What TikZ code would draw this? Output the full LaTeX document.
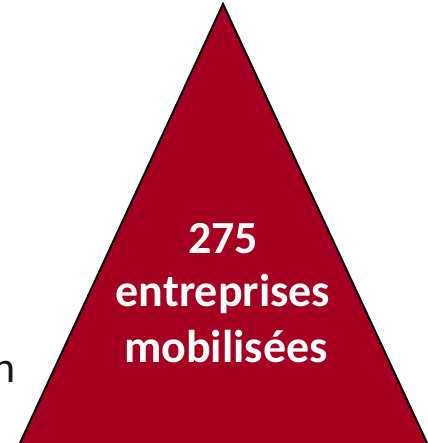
\documentclass[tikz,border=0pt]{standalone}
\usepackage{fontspec}
\setmainfont{Carlito}
\definecolor{crimson}{RGB}{165,0,33}
\tikzset{
  lbl/.style={anchor=base, inner sep=0pt, text=white, font=\bfseries\fontsize{46}{55}\selectfont},
  tri/.style={fill=crimson, draw=black, line width=2pt, line join=miter}
}
\begin{document}
\begin{tikzpicture}[x=1pt,y=-1pt]
\useasboundingbox (0,0) rectangle (427,443);
\coordinate (apex) at (223,4);
\coordinate (bl) at (16.8,450);
\coordinate (br) at (430.3,450);
\draw[tri] (apex) -- (bl) -- (br) -- cycle;
\node[lbl] (l1) at (223,253) {275};
\node[lbl] (l2) at (223,306) {entreprises};
\node[lbl] (l3) at (226,362) {mobilisées};
\node[anchor=base east, inner sep=0pt, text=black!90, font=\fontsize{44}{44}\selectfont] (cut) at (15.6,382) {n};
\end{tikzpicture}
\end{document}
